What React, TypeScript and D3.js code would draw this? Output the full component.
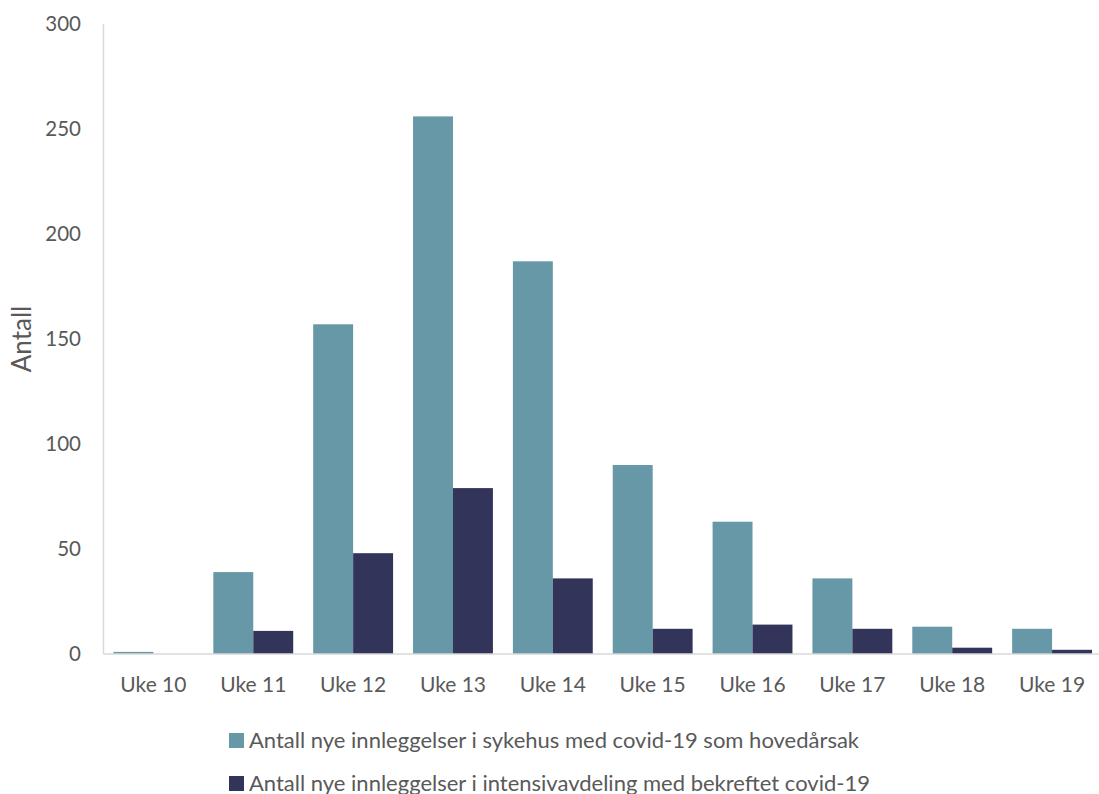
import React, { useEffect, useRef } from "react";
import * as d3 from "d3";

const categories = ["Uke 10", "Uke 11", "Uke 12", "Uke 13", "Uke 14", "Uke 15", "Uke 16", "Uke 17", "Uke 18", "Uke 19"];
const sykehus = [1, 39, 157, 256, 187, 90, 63, 36, 13, 12];
const intensiv = [0, 11, 48, 79, 36, 12, 14, 12, 3, 2];
const seriesNames = [
  "Antall nye innleggelser i sykehus med covid-19 som hovedårsak",
  "Antall nye innleggelser i intensivavdeling med bekreftet covid-19",
];
const yTicks = [0, 50, 100, 150, 200, 250, 300];
const colors = ["#6798A7", "#32345A"];

export default function App() {
  const ref = useRef<SVGSVGElement>(null);
  useEffect(() => {
    const svg = d3.select(ref.current);
    svg.selectAll("*").remove();
    const left = 103.5, right = 1102, top = 24, bottom = 654;
    const font = "Lato, 'Open Sans', sans-serif";
    const x0 = d3.scaleBand().domain(categories).range([left, right]).padding(0);
    const step = x0.step();
    const y = d3.scaleLinear().domain([0, 300]).range([bottom, top]);
    const barW = step * 0.4;

    const g = svg.append("g");
    const series = [sykehus, intensiv];
    series.forEach((vals, si) => {
      g.selectAll(`rect.s${si}`)
        .data(vals)
        .enter()
        .append("rect")
        .attr("x", (_, i) => (x0(categories[i]) as number) + step * 0.1 + si * barW)
        .attr("y", (d) => y(d))
        .attr("width", barW)
        .attr("height", (d) => bottom - y(d))
        .attr("fill", colors[si]);
    });

    g.append("line").attr("x1", left).attr("x2", left).attr("y1", top).attr("y2", bottom).attr("stroke", "#D9D9D9").attr("stroke-width", 1.5);
    g.append("line").attr("x1", left).attr("x2", right).attr("y1", bottom).attr("y2", bottom).attr("stroke", "#D9D9D9").attr("stroke-width", 1.5);

    g.selectAll("text.yt")
      .data(yTicks)
      .enter()
      .append("text")
      .attr("x", 81)
      .attr("y", (d) => y(d))
      .attr("dy", "0.35em")
      .attr("text-anchor", "end")
      .attr("font-family", font)
      .attr("font-size", 20.5)
      .attr("fill", "#595959")
      .text((d) => String(d));

    g.selectAll("text.xt")
      .data(categories)
      .enter()
      .append("text")
      .attr("x", (d) => (x0(d) as number) + step / 2)
      .attr("y", 692)
      .attr("text-anchor", "middle")
      .attr("font-family", font)
      .attr("font-size", 21)
      .attr("fill", "#595959")
      .text((d) => d);

    g.append("text")
      .attr("transform", `translate(31,${(top + bottom) / 2}) rotate(-90)`)
      .attr("text-anchor", "middle")
      .attr("font-family", font)
      .attr("font-size", 26)
      .attr("fill", "#595959")
      .text("Antall");

    seriesNames.forEach((name, i) => {
      const cy = 740 + i * 43;
      g.append("rect").attr("x", 229).attr("y", cy - 7).attr("width", 15).attr("height", 15).attr("fill", colors[i]);
      g.append("text")
        .attr("x", 249)
        .attr("y", cy)
        .attr("dy", "0.35em")
        .attr("font-family", font)
        .attr("font-size", 22)
        .attr("fill", "#595959")
        .text(name);
    });
  }, []);
  return (
    <svg ref={ref} width={1099} height={794} style={{ position: "absolute", left: 0, top: 0, background: "#fff" }} />
  );
}
